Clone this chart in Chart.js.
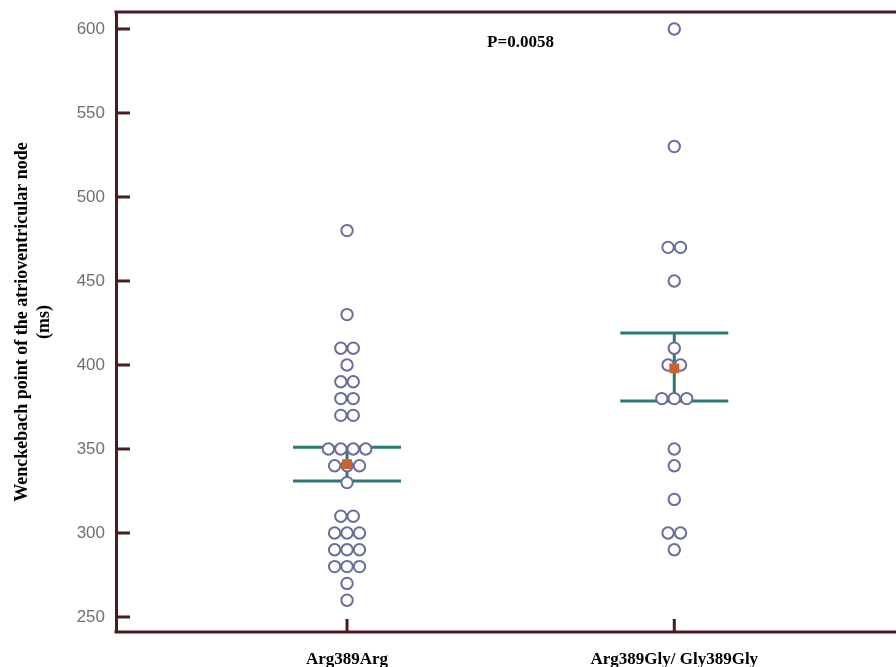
<!DOCTYPE html>
<html>
<head>
<meta charset="utf-8">
<script src="https://cdn.jsdelivr.net/npm/chart.js@4"></script>
<style>
  html, body { margin: 0; padding: 0; background: #ffffff; overflow: hidden; }
  canvas { display: block; }
</style>
</head>
<body>
<canvas id="c" width="896" height="667" style="width:896px;height:667px"></canvas>
<script>
// ---- data ----
const categories = ['Arg389Arg', 'Arg389Gly/ Gly389Gly'];
const argArgValues = [480, 430, 410, 410, 400, 390, 390, 380, 380, 370, 370,
  350, 350, 350, 350, 340, 340, 340, 330, 310, 310, 300, 300, 300,
  290, 290, 290, 280, 280, 280, 270, 260];
const glyValues = [600, 530, 470, 470, 450, 410, 400, 400, 380, 380, 380,
  350, 340, 320, 300, 300, 290];
const groupMeans = [341, 398];
const ciLower = [331, 378.5];
const ciUpper = [351, 419];
const yTicks = [250, 300, 350, 400, 450, 500, 550, 600];
const pValueLabel = 'P=0.0058';
const yTitle = ['Wenckebach point of the atrioventricular node', '(ms)'];

// ---- styling constants ----
const SPACING = 0.038;     // swarm offset between tied values (x units)
const CI_HALF = 0.165;     // half width of CI bars (x units)
const AXIS_COLOR = '#4a1b1f';
const TEAL = '#2b7a72';

function swarm(values, center) {
  const counts = {};
  values.forEach(v => { counts[v] = (counts[v] || 0) + 1; });
  const seen = {};
  return values.map(v => {
    seen[v] = (seen[v] === undefined) ? 0 : seen[v] + 1;
    return { x: center + (seen[v] - (counts[v] - 1) / 2) * SPACING, y: v };
  });
}

const groups = [argArgValues, glyValues];
const datasets = [];

groups.forEach((vals, gi) => {
  const cx = gi + 1;
  [ciLower[gi], ciUpper[gi]].forEach(y => {
    datasets.push({
      data: [{ x: cx - CI_HALF, y: y }, { x: cx + CI_HALF, y: y }],
      showLine: true, pointRadius: 0, borderColor: TEAL, borderWidth: 3, order: 3
    });
  });
  datasets.push({
    data: [{ x: cx, y: ciLower[gi] }, { x: cx, y: ciUpper[gi] }],
    showLine: true, pointRadius: 0, borderColor: TEAL, borderWidth: 3, order: 3
  });
  datasets.push({
    data: swarm(vals, cx),
    pointRadius: 5.7, pointBorderWidth: 2,
    pointBorderColor: '#6b6b9c', pointBackgroundColor: '#ffffff', order: 1
  });
  datasets.push({
    data: [{ x: cx, y: groupMeans[gi] }],
    pointStyle: 'rect', pointRadius: 7, pointBorderWidth: 0,
    pointBackgroundColor: '#c9622c', pointBorderColor: '#c9622c', order: 0
  });
});

function zeroPad(s) { s.paddingTop = 0; s.paddingBottom = 0; s.paddingLeft = 0; s.paddingRight = 0; }

const decor = {
  id: 'decor',
  afterDraw(chart) {
    const { ctx, chartArea: a, scales: { x, y } } = chart;
    ctx.save();
    ctx.strokeStyle = AXIS_COLOR;
    ctx.lineWidth = 3;
    ctx.beginPath();
    ctx.moveTo(a.left - 1.5, a.top);
    ctx.lineTo(chart.width, a.top);
    ctx.moveTo(a.left - 1.5, a.bottom);
    ctx.lineTo(chart.width, a.bottom);
    ctx.stroke();
    y.ticks.forEach(t => {
      const py = y.getPixelForValue(t.value);
      ctx.beginPath();
      ctx.moveTo(a.left, py);
      ctx.lineTo(a.left + 14, py);
      ctx.stroke();
    });
    x.ticks.forEach(t => {
      const px = x.getPixelForValue(t.value);
      ctx.beginPath();
      ctx.moveTo(px, a.bottom);
      ctx.lineTo(px, a.bottom - 13);
      ctx.stroke();
    });
    ctx.fillStyle = '#000';
    ctx.font = 'bold 17px "Liberation Serif"';
    ctx.textAlign = 'center';
    ctx.textBaseline = 'middle';
    ctx.fillText(pValueLabel, x.getPixelForValue(1.53), y.getPixelForValue(592));
    ctx.restore();
  }
};

new Chart(document.getElementById('c'), {
  type: 'scatter',
  data: { datasets },
  options: {
    responsive: false,
    animation: false,
    layout: { padding: { top: 12, right: 0, left: 0, bottom: 0 } },
    plugins: { legend: { display: false }, tooltip: { enabled: false } },
    scales: {
      x: {
        type: 'linear', position: 'bottom',
        min: 0.294, max: 2.654,
        afterBuildTicks: s => { s.ticks = categories.map((c, i) => ({ value: i + 1 })); },
        afterFit: s => { s.height = 35; zeroPad(s); },
        grid: { display: false, drawTicks: false },
        border: { display: false },
        ticks: {
          padding: 17, color: '#000', maxRotation: 0, autoSkip: false,
          font: { family: 'Liberation Serif', size: 17, weight: 'bold' },
          callback: v => categories[Math.round(v) - 1]
        }
      },
      y: {
        type: 'linear', position: 'left',
        min: 241.07, max: 610.1,
        afterBuildTicks: s => { s.ticks = yTicks.map(v => ({ value: v })); },
        afterFit: s => { s.width = 116; zeroPad(s); },
        grid: { display: false, drawTicks: false },
        border: { display: true, color: AXIS_COLOR, width: 3 },
        ticks: {
          padding: 11, color: '#707070',
          font: { family: 'Liberation Sans', size: 17 }
        },
        title: {
          display: true, text: yTitle, color: '#000',
          font: { family: 'Liberation Serif', size: 18, weight: 'bold', lineHeight: 1.22 },
          padding: { top: 11, bottom: 0 }
        }
      }
    }
  },
  plugins: [decor]
});
</script>
</body>
</html>
